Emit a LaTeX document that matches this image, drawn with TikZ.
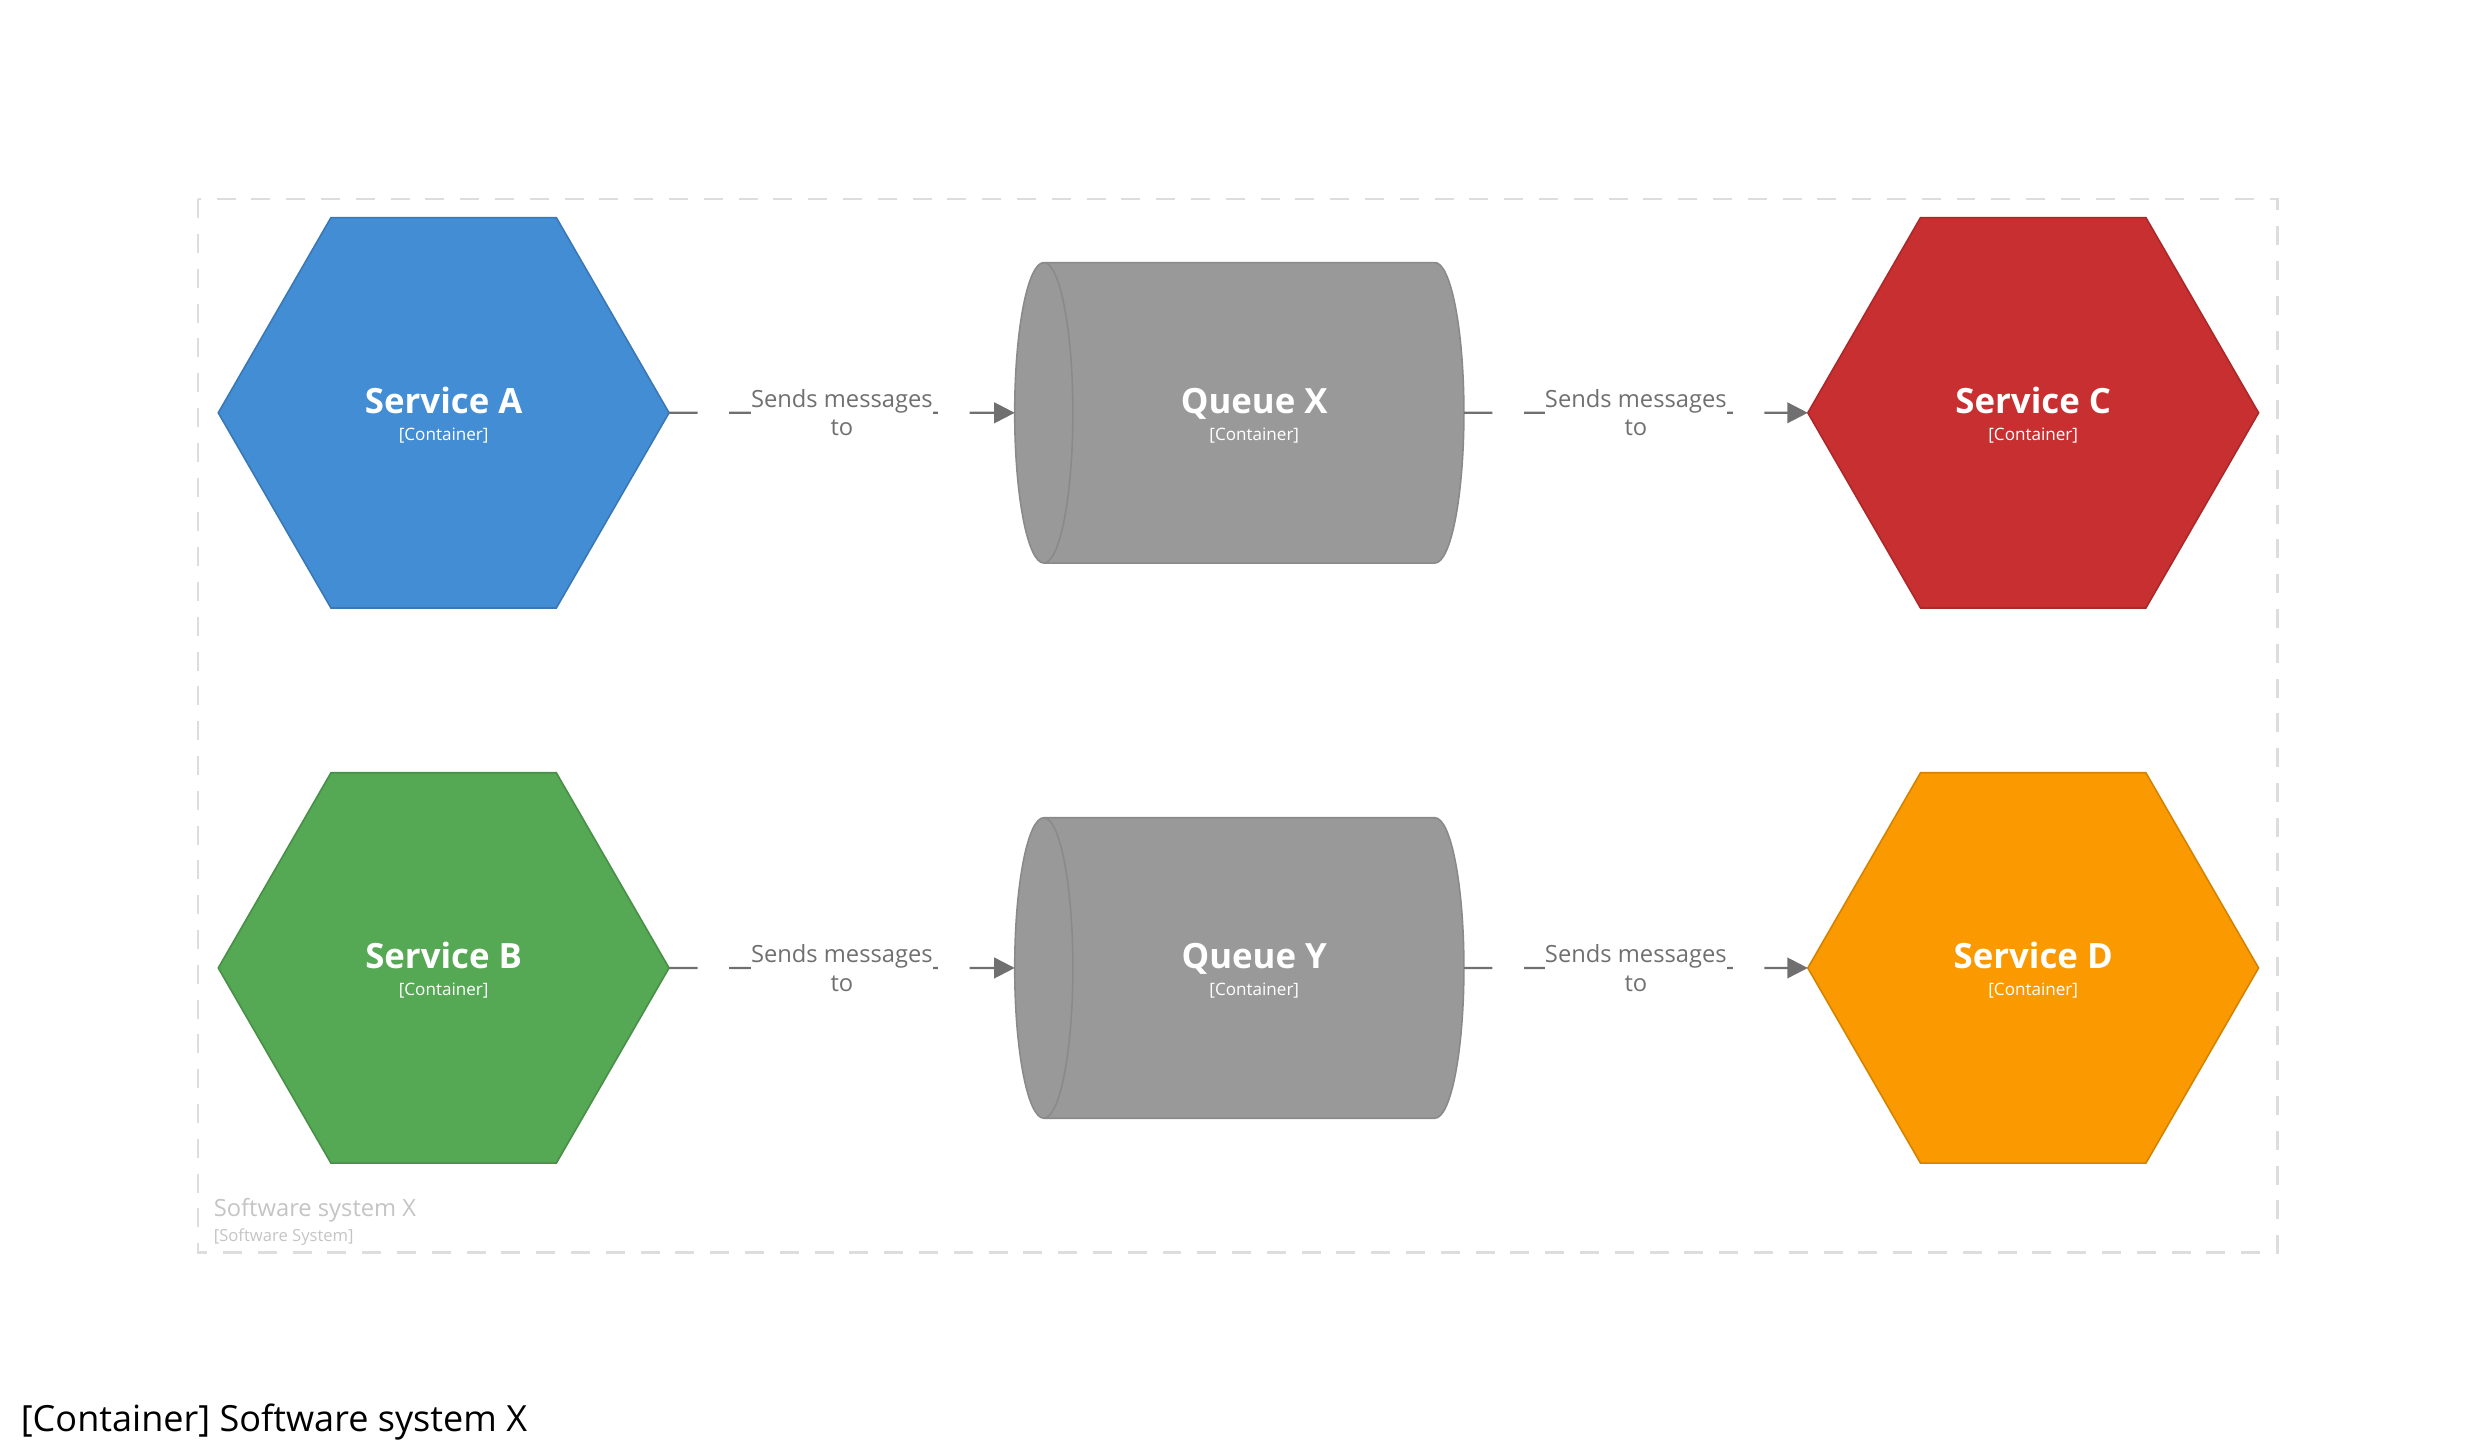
\documentclass[tikz,border=0pt]{standalone}
\usepackage{fontspec}
\setmainfont{Open Sans}
\usetikzlibrary{shapes.geometric,arrows.meta}
\definecolor{svcblue}{HTML}{438DD5}
\definecolor{svcgreen}{HTML}{55A854}
\definecolor{svcred}{HTML}{C82F30}
\definecolor{svcorange}{HTML}{FA9A00}
\definecolor{qfill}{HTML}{999999}
\definecolor{qline}{HTML}{8A8A8A}
\definecolor{relgray}{HTML}{707070}
\definecolor{bndgray}{HTML}{DDDDDD}
\definecolor{bndtext}{HTML}{C4C4C4}
\newcommand{\ctitle}[1]{{\bfseries\fontsize{22}{17}\selectfont\rule{0pt}{20pt}#1}\\ {[Container]}}
\begin{document}
\begin{tikzpicture}[x=1pt,y=-1pt,
	svc/.style={regular polygon,regular polygon sides=6,minimum size=285pt,inner sep=0pt,outer sep=0pt,
		draw=#1!85!black,fill=#1,line width=1pt,text=white,align=center,font=\fontsize{10.8}{17}\selectfont},
	queue/.style={cylinder,shape border rotate=180,aspect=0.95,minimum width=190pt,minimum height=284pt,
		inner sep=0pt,outer sep=0pt,draw=qline,fill=qfill,line width=1pt,text=white,align=center,
		font=\fontsize{10.8}{17}\selectfont},
	rel/.style={draw=relgray,line width=1.5pt,dash pattern=on 18pt off 20pt,-{Triangle[length=13pt,width=13pt]}},
	rellbl/.style={fill=white,inner xsep=0pt,inner ysep=1pt,text=relgray,align=center,font=\fontsize{15}{18}\selectfont}]
	\useasboundingbox (0,0) rectangle (1568,920);
	% boundary
	\draw[bndgray,line width=1.5pt,dash pattern=on 12pt off 10pt] (125,126) rectangle (1440,792);
	\node[anchor=west,text=bndtext,font=\fontsize{15}{18}\selectfont,inner sep=0pt] (bname) at (135,765) {Software system X};
	\node[anchor=west,text=bndtext,font=\fontsize{10.5}{12}\selectfont,inner sep=0pt] (btype) at (135,782) {[Software System]};
	% services and queues
	\node[svc=svcblue] (sa) at (280.5,261) {\ctitle{Service A}};
	\node[svc=svcgreen] (sb) at (280.5,612) {\ctitle{Service B}};
	\node[svc=svcred] (sc) at (1285.5,261) {\ctitle{Service C}};
	\node[svc=svcorange] (sd) at (1285.5,612) {\ctitle{Service D}};
	\node[queue] (qx) at (793,261) {\ctitle{Queue X}};
	\node[queue] (qy) at (793,612) {\ctitle{Queue Y}};
	% relationships
	\draw[rel] (sa.east) -- node[rellbl] {Sends messages\\to} (qx.west);
	\draw[rel] (qx.east) -- node[rellbl] {Sends messages\\to} (sc.west);
	\draw[rel] (sb.east) -- node[rellbl] {Sends messages\\to} (qy.west);
	\draw[rel] (qy.east) -- node[rellbl] {Sends messages\\to} (sd.west);
	\node[anchor=west,inner sep=0pt,font=\fontsize{22.8}{28}\selectfont] (title) at (13,899) {[Container] Software system X};
\end{tikzpicture}
\end{document}
